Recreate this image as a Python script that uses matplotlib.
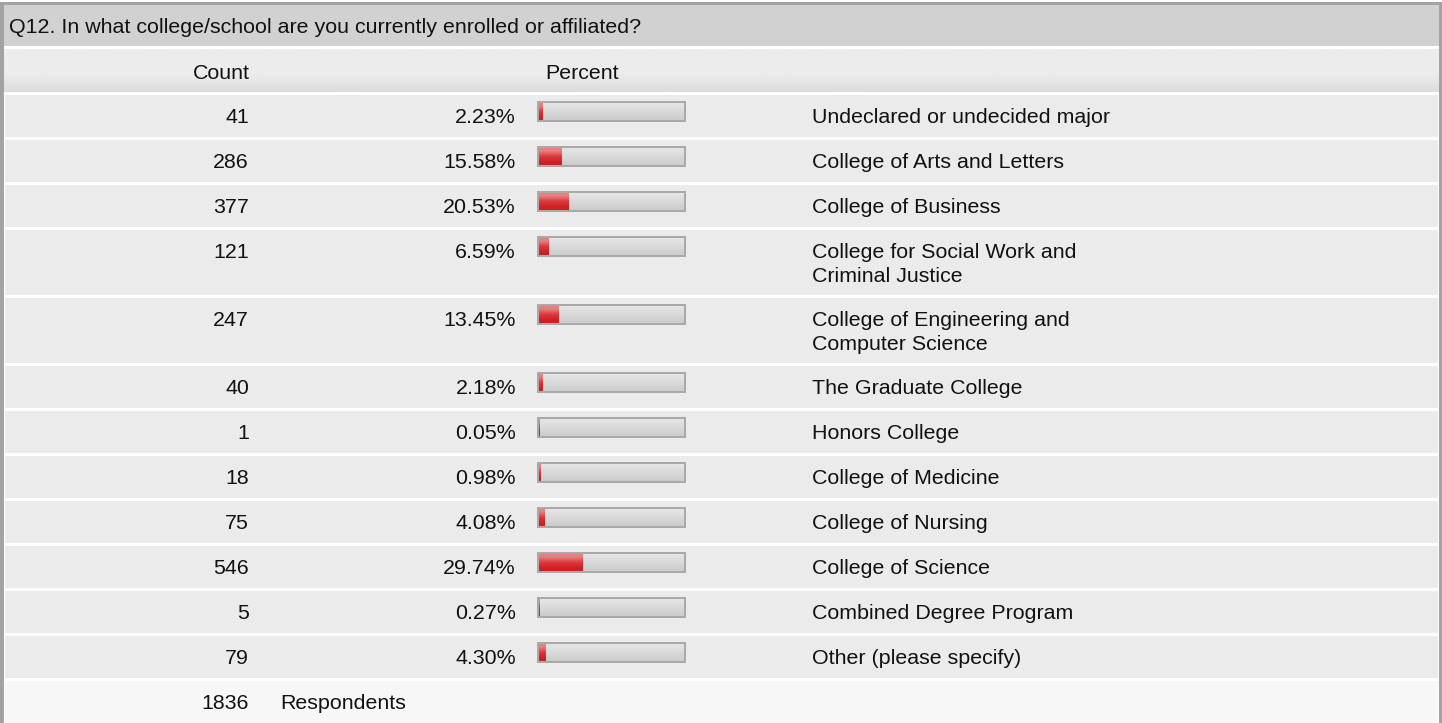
import matplotlib
matplotlib.use("Agg")
import matplotlib.pyplot as plt
import numpy as np
from matplotlib.patches import Rectangle

# ---------------- data ----------------
title = "Q12. In what college/school are you currently enrolled or affiliated?"
categories = [
    "Undeclared or undecided major",
    "College of Arts and Letters",
    "College of Business",
    "College for Social Work and\nCriminal Justice",
    "College of Engineering and\nComputer Science",
    "The Graduate College",
    "Honors College",
    "College of Medicine",
    "College of Nursing",
    "College of Science",
    "Combined Degree Program",
    "Other (please specify)",
]
counts = [41, 286, 377, 121, 247, 40, 1, 18, 75, 546, 5, 79]
percents = [2.23, 15.58, 20.53, 6.59, 13.45, 2.18, 0.05, 0.98, 4.08, 29.74, 0.27, 4.30]
respondents = 1836

# ---------------- layout ----------------
W, H = 1442, 723
fig = plt.figure(figsize=(W / 100, H / 100), dpi=100)
ax = fig.add_axes([0, 0, 1, 1])
ax.set_xlim(0, W)
ax.set_ylim(H, 0)
ax.axis("off")

FONT = "Liberation Sans"
FS = 15.4
TXT = "#111111"

border = "#a3a3a3"
# outer frame
ax.add_patch(Rectangle((0, 2), W - 1, H, facecolor="white", edgecolor="none"))
ax.add_patch(Rectangle((0, 2), 4, H, facecolor=border, edgecolor="none"))
ax.add_patch(Rectangle((W - 3, 2), 3, H, facecolor=border, edgecolor="none"))
ax.add_patch(Rectangle((0, 2), W, 3, facecolor=border, edgecolor="none"))

x0, x1 = 4, W - 3
# title bar
ax.add_patch(Rectangle((x0, 5), x1 - x0, 41, facecolor="#d1d1d1", edgecolor="none"))
ax.text(9, 33, title, fontsize=FS, family=FONT, color=TXT, va="baseline", ha="left")

# column header row with gradient at bottom
grad = np.linspace(0, 1, 50)
hdr = np.where(grad < 0.6, 0.922, 0.922 - (grad - 0.6) / 0.4 * 0.06)
ax.imshow(hdr[:, None], extent=(x0, x1, 92, 49), cmap="gray", vmin=0, vmax=1,
          aspect="auto", interpolation="bilinear", zorder=1)
ax.text(250, 79, "Count", fontsize=FS, family=FONT, color=TXT, va="baseline", ha="right", zorder=3)
ax.text(582, 79, "Percent", fontsize=FS, family=FONT, color=TXT, va="baseline", ha="center", zorder=3)

# bar geometry
BX0, BX1 = 537, 686
INNER_L, INNER_W = 539, 145
red_grad = np.array([[0.91, 0.50, 0.50], [0.86, 0.22, 0.24], [0.80, 0.13, 0.14]])

y = 95.0
for cat, cnt, pct in zip(categories, counts, percents):
    nlines = cat.count("\n") + 1
    h = 42 if nlines == 1 else 65
    ax.add_patch(Rectangle((x0 + 1, y), x1 - x0 - 2, h, facecolor="#ebebeb", edgecolor="none", zorder=1))
    base = y + 28
    ax.text(249, base, str(cnt), fontsize=FS, family=FONT, color=TXT, va="baseline", ha="right", zorder=3)
    ax.text(516, base, f"{pct:.2f}%", fontsize=FS, family=FONT, color=TXT, va="baseline", ha="right", zorder=3)
    for i, line in enumerate(cat.split("\n")):
        ax.text(812, base + i * 24, line, fontsize=FS, family=FONT, color=TXT,
                va="baseline", ha="left", zorder=3)
    # bar track
    by = y + 6
    ax.add_patch(Rectangle((BX0, by), BX1 - BX0, 21, facecolor="#a9a9a9", edgecolor="none", zorder=2))
    g = np.linspace(0.90, 0.80, 30)
    ax.imshow(g[:, None], extent=(BX0 + 2, BX1 - 2, by + 19, by + 2), cmap="gray", vmin=0, vmax=1,
              aspect="auto", interpolation="bilinear", zorder=2.1)
    # red fill
    bars = ax.barh([by + 10.5], [pct / 100 * INNER_W], left=INNER_L, height=17,
                   color="#d42a2a", edgecolor="none", zorder=2.2)
    img = ax.imshow(red_grad[:, None, :], extent=(INNER_L, BX1 - 2, by + 19, by + 2),
                    aspect="auto", interpolation="bilinear", zorder=2.3)
    img.set_clip_path(bars.patches[0])
    y += h + 3

ax.set_xlim(0, W)
ax.set_ylim(H, 0)

# footer
ax.add_patch(Rectangle((x0 + 1, y), x1 - x0 - 2, H - y, facecolor="#f7f7f7", edgecolor="none", zorder=1))
ax.text(249, y + 28, str(respondents), fontsize=FS, family=FONT, color=TXT, va="baseline", ha="right", zorder=3)
ax.text(280, y + 28, "Respondents", fontsize=FS, family=FONT, color=TXT, va="baseline", ha="left", zorder=3)

fig.savefig("out.png", dpi=100)
